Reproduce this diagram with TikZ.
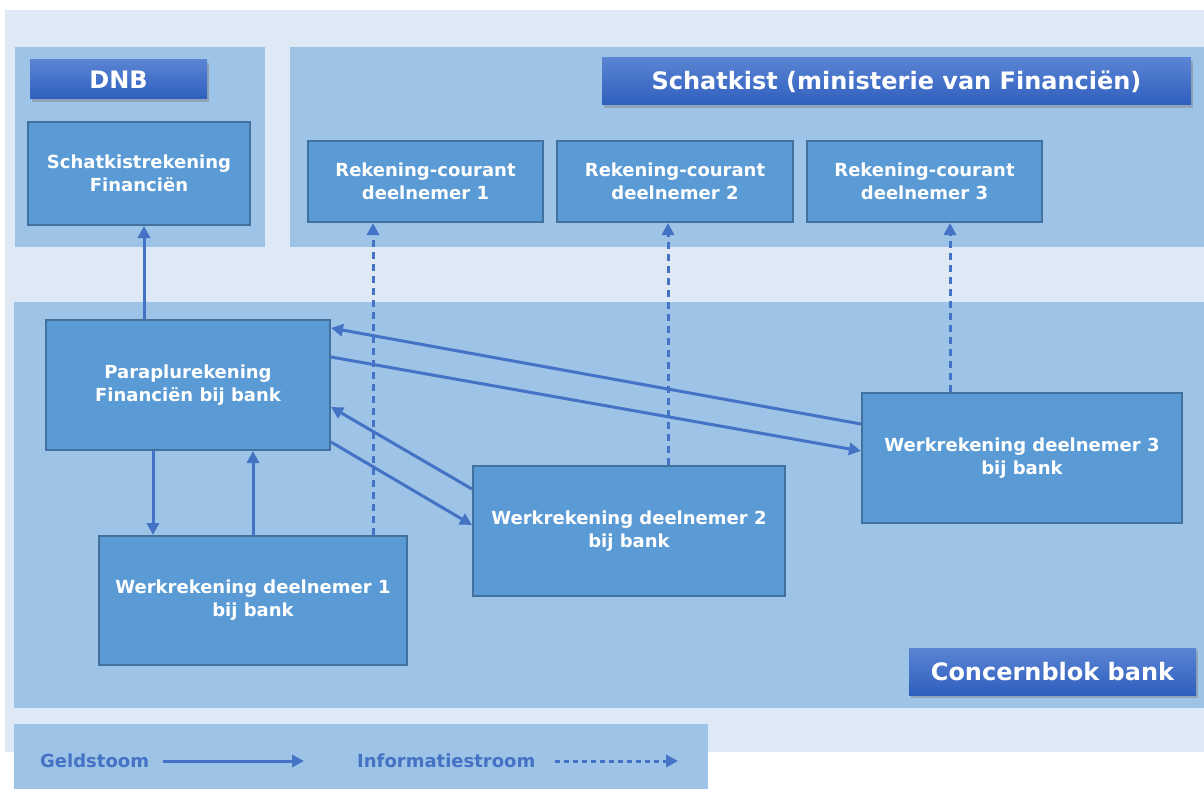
\documentclass[tikz,border=0pt]{standalone}
\usepackage{fontspec}
\setmainfont{DejaVu Sans}
\usetikzlibrary{shadows,arrows.meta}
\definecolor{bgl}{HTML}{DEE9F5}
\definecolor{panel}{HTML}{9DC3E6}
\definecolor{nodefill}{HTML}{5B9BD5}
\definecolor{nodeborder}{HTML}{41719C}
\definecolor{arrowc}{HTML}{4472C4}
\definecolor{hdtop}{HTML}{5A84D3}
\definecolor{hdbot}{HTML}{2F5FBE}
\tikzset{
  box/.style={draw=nodeborder, line width=2pt, fill=nodefill, text=white, align=center,
    font=\fontsize{18}{23}\selectfont\bfseries, inner sep=0pt},
  header/.style={top color=hdtop, bottom color=hdbot, text=white, inner sep=0pt,
    font=\fontsize{24}{28}\selectfont\bfseries,
    drop shadow={shadow xshift=2pt, shadow yshift=-3pt, opacity=0.45}},
  money/.style={draw=arrowc, line width=3pt, -{Triangle[length=12pt,width=12pt]}},
  info/.style={money, dash pattern=on 7pt off 5pt},
  legtext/.style={text=arrowc, font=\fontsize{18}{21}\selectfont\bfseries, inner sep=0pt}
}
\begin{document}
\begin{tikzpicture}[x=1pt,y=-1pt]
\useasboundingbox (0,0) rectangle (1204,789);
\fill[white] (0,0) rectangle (1204,789);
\fill[bgl] (5,10) rectangle (1204,752);
% panels
\fill[panel] (15,47) rectangle (265,247);
\fill[panel] (290,47) rectangle (1204,247);
\fill[panel] (14,302) rectangle (1204,708);
\fill[panel] (14,724) rectangle (708,789);
% headers
\node[header, minimum width=177pt, minimum height=39pt] (dnb) at (118.5,79.5) {DNB};
\node[header, minimum width=589pt, minimum height=47pt] (skist) at (896.5,81.5) {Schatkist (ministerie van Financiën)};
\node[header, minimum width=287pt, minimum height=47pt] (cblok) at (1052.5,671.5) {Concernblok bank};
% boxes
\node[box, minimum width=222pt, minimum height=103pt] (schk) at (139,173.5) {Schatkistrekening\\Financiën};
\node[box, minimum width=235pt, minimum height=81pt] (rc1) at (425.5,181.5) {Rekening-courant\\deelnemer 1};
\node[box, minimum width=236pt, minimum height=81pt] (rc2) at (675,181.5) {Rekening-courant\\deelnemer 2};
\node[box, minimum width=235pt, minimum height=81pt] (rc3) at (924.5,181.5) {Rekening-courant\\deelnemer 3};
\node[box, minimum width=284pt, minimum height=130pt] (para) at (188,385) {Paraplurekening\\Financiën bij bank};
\node[box, minimum width=308pt, minimum height=129pt] (w1) at (253,600.5) {Werkrekening deelnemer 1\\bij bank};
\node[box, minimum width=312pt, minimum height=130pt] (w2) at (629,531) {Werkrekening deelnemer 2\\bij bank};
\node[box, minimum width=320pt, minimum height=130pt] (w3) at (1022,458) {Werkrekening deelnemer 3\\bij bank};
% connectors
\draw[money] ([xshift=99pt]para.north west) -- ([xshift=99pt]para.north west |- schk.south);
\draw[info] ([xshift=275pt]w1.north west) -- ([xshift=275pt]w1.north west |- rc1.south);
\draw[info] ([xshift=196pt]w2.north west) -- ([xshift=196pt]w2.north west |- rc2.south);
\draw[info] ([xshift=89pt]w3.north west) -- ([xshift=89pt]w3.north west |- rc3.south);
\draw[money] ([xshift=108pt]para.south west) -- ([xshift=108pt]para.south west |- w1.north);
\draw[money] ([xshift=155pt]w1.north west) -- ([xshift=155pt]w1.north west |- para.south);
\draw[money] ([yshift=-32pt]w3.north west) -- ([yshift=-9pt]para.north east);
\draw[money] ([yshift=-38pt]para.north east) -- ([yshift=-59pt]w3.north west);
\draw[money] ([yshift=-24pt]w2.north west) -- ([yshift=-88pt]para.north east);
\draw[money] ([yshift=-123pt]para.north east) -- ([yshift=-60pt]w2.north west);
% legend
\node[legtext, anchor=west] (lgeld) at (40,761) {Geldstoom};
\node[legtext, anchor=west] (linfo) at (357,761) {Informatiestroom};
\coordinate (lga) at (163,761);
\coordinate (lgb) at (304,761);
\coordinate (lia) at (555,761);
\coordinate (lib) at (678,761);
\draw[money] (lga) -- (lgb);
\draw[info, dash pattern=on 5pt off 4pt] (lia) -- (lib);
\end{tikzpicture}
\end{document}
